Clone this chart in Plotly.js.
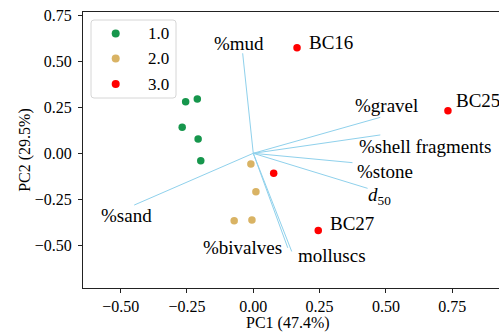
<!DOCTYPE html>
<html>
<head>
<meta charset="utf-8">
<script src="https://cdn.plot.ly/plotly-3.0.1.min.js"></script>
<style>
  html, body { margin: 0; padding: 0; background: #fff; }
  #chart { width: 499px; height: 335px; }
</style>
</head>
<body>
<div id="chart"></div>
<script>
// PCA scores, one array pair per cluster
const cluster1X = [-0.255, -0.211, -0.268, -0.208, -0.198];
const cluster1Y = [0.281, 0.296, 0.142, 0.078, -0.040];
const cluster2X = [-0.009, 0.010, -0.005, -0.072];
const cluster2Y = [-0.058, -0.209, -0.363, -0.367];
const cluster3X = [0.077, 0.245, 0.165, 0.734];
const cluster3Y = [-0.109, -0.421, 0.575, 0.232];
const cluster3Names = ['', 'BC27', 'BC16', 'BC25'];
const clusterNames = ['1.0', '2.0', '3.0'];

// Variable loadings (arrow tips from the origin)
const variables = ['%mud', '%gravel', '%shell fragments', '%stone', '<i>d</i><sub>50</sub>', 'molluscs', '%bivalves', '%sand'];
const loadX = [-0.040, 0.479, 0.479, 0.374, 0.431, 0.145, 0.130, -0.449];
const loadY = [0.545, 0.196, 0.100, -0.051, -0.191, -0.535, -0.515, -0.282];

// Axis labels
const xTitle = 'PC1 (47.4%)';
const yTitle = 'PC2 (29.5%)';

const serif = 'Liberation Serif';
const colors = ['#16964c', '#d9b364', '#ff0000'];

// label placement next to each arrow tip (pixels)
const loadLabelPos = [
  { xanchor: 'center', xshift: -4, yshift: 10 },
  { xanchor: 'center', xshift: 6, yshift: 12 },
  { xanchor: 'left', xshift: -23, yshift: -12 },
  { xanchor: 'left', xshift: 3, yshift: -9 },
  { xanchor: 'left', xshift: -2, yshift: -8 },
  { xanchor: 'left', xshift: 4, yshift: -4 },
  { xanchor: 'right', xshift: -4, yshift: 0 },
  { xanchor: 'center', xshift: -8, yshift: -10 }
];
// label placement next to each named sample (pixels)
const pointLabelPos = [null, { xshift: 10, yshift: 7 }, { xshift: 10, yshift: 5 }, { xshift: 6, yshift: 10 }];

const traces = [];
variables.forEach((v, i) => {
  traces.push({
    x: [0, loadX[i]], y: [0, loadY[i]],
    mode: 'lines', type: 'scatter',
    line: { color: '#8fd1ec', width: 1 },
    showlegend: false, hoverinfo: 'skip'
  });
});
[[cluster1X, cluster1Y], [cluster2X, cluster2Y], [cluster3X, cluster3Y]].forEach((c, i) => {
  traces.push({
    x: c[0], y: c[1], mode: 'markers', type: 'scatter',
    name: clusterNames[i], showlegend: false,
    marker: { color: colors[i], size: 7.5 }
  });
});

const annotations = [];
variables.forEach((v, i) => {
  const p = loadLabelPos[i];
  annotations.push({
    x: loadX[i], y: loadY[i], xref: 'x', yref: 'y', text: v, showarrow: false,
    xanchor: p.xanchor, yanchor: 'middle', xshift: p.xshift, yshift: p.yshift,
    font: { family: serif, size: 19, color: '#000' }
  });
});
cluster3Names.forEach((n, i) => {
  if (!n) return;
  const p = pointLabelPos[i];
  annotations.push({
    x: cluster3X[i], y: cluster3Y[i], xref: 'x', yref: 'y', text: n, showarrow: false,
    xanchor: 'left', yanchor: 'middle', xshift: p.xshift, yshift: p.yshift,
    font: { family: serif, size: 19, color: '#000' }
  });
});

// x-axis title, placed just under the tick labels
annotations.push({
  x: 0.492, y: 0, xref: 'paper', yref: 'paper', text: xTitle, showarrow: false,
  xanchor: 'center', yanchor: 'middle', yshift: -35,
  font: { family: serif, size: 16, color: '#000' }
});

// Legend box drawn in pixels from the top-left corner of the plot area
const shapes = [{
  type: 'path', xref: 'paper', yref: 'paper', xsizemode: 'pixel', ysizemode: 'pixel',
  xanchor: 0, yanchor: 1,
  path: 'M 11 -8 L 90 -8 Q 93 -8 93 -11 L 93 -83 Q 93 -86 90 -86 L 11 -86 Q 8 -86 8 -83 L 8 -11 Q 8 -8 11 -8 Z',
  line: { color: '#d6d6d6', width: 1 }, fillcolor: 'rgba(255,255,255,0.8)', layer: 'above'
}];
const legendRowY = [-21.5, -46.5, -72];
clusterNames.forEach((name, i) => {
  shapes.push({
    type: 'circle', xref: 'paper', yref: 'paper', xsizemode: 'pixel', ysizemode: 'pixel',
    xanchor: 0, yanchor: 1,
    x0: 28.7, x1: 36.7, y0: legendRowY[i] - 4, y1: legendRowY[i] + 4,
    line: { width: 0 }, fillcolor: colors[i], layer: 'above'
  });
  annotations.push({
    x: 0, y: 1, xref: 'paper', yref: 'paper', text: name, showarrow: false,
    xanchor: 'left', yanchor: 'middle', xshift: 63, yshift: legendRowY[i],
    font: { family: serif, size: 17, color: '#000' }
  });
});

const layout = {
  width: 499, height: 335,
  margin: { l: 83, r: 0, t: 12, b: 47, pad: 0 },
  paper_bgcolor: '#fff', plot_bgcolor: '#fff',
  font: { family: serif, size: 16, color: '#000' },
  xaxis: {
    range: [-0.642, 0.9265], tickvals: [-0.5, -0.25, 0, 0.25, 0.5, 0.75], tickformat: '.2f',
    showgrid: false, zeroline: false, showline: true, mirror: true, linecolor: '#222', linewidth: 1,
    ticks: 'outside', ticklen: 4, tickcolor: '#222',
    tickfont: { family: serif, size: 16 }
  },
  yaxis: {
    range: [-0.734, 0.770], tickvals: [-0.5, -0.25, 0, 0.25, 0.5, 0.75], tickformat: '.2f',
    showgrid: false, zeroline: false, showline: true, mirror: false, linecolor: '#222', linewidth: 1,
    ticks: 'outside', ticklen: 4, tickcolor: '#222', ticklabelstandoff: 3,
    tickfont: { family: serif, size: 16 },
    title: { text: yTitle, font: { family: serif, size: 16 }, standoff: 0 }
  },
  annotations: annotations,
  shapes: shapes,
  showlegend: false
};

Plotly.newPlot('chart', traces, layout, { staticPlot: true, displayModeBar: false });
</script>
</body>
</html>
